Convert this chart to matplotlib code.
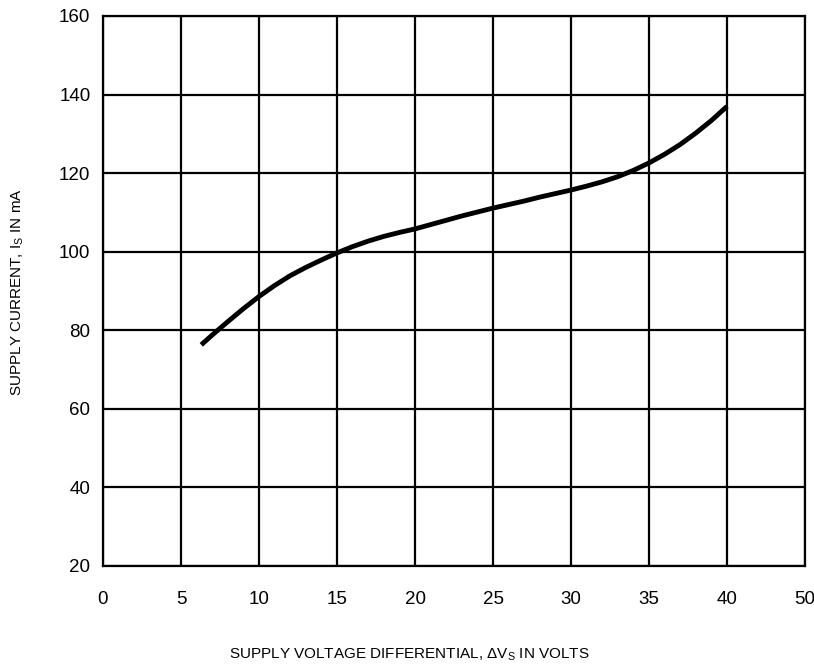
import numpy as np
import matplotlib.pyplot as plt

plt.rcParams['font.family'] = ['Liberation Sans', 'DejaVu Sans']
plt.rcParams['mathtext.fontset'] = 'custom'
plt.rcParams['mathtext.rm'] = 'Liberation Sans'
plt.rcParams['mathtext.it'] = 'Liberation Sans'

# ось x неравномерная: последний интервал 40..50
x_ticks = [0, 5, 10, 15, 20, 25, 30, 35, 40, 50]
y_ticks = [20, 40, 60, 80, 100, 120, 140, 160]

# кривая тока питания
volts = [6.3, 7, 8, 9, 10, 11, 12, 13, 14, 15, 16, 17, 18, 19, 20,
         21, 22, 23, 24, 25, 26, 27, 28, 29, 30,
         31, 32, 33, 34, 35, 36, 37, 38, 39, 40]
current = [76.3, 78.8, 82.2, 85.5, 88.6, 91.4, 93.9, 96.0, 97.9, 99.7, 101.3, 102.7, 103.9, 104.9, 105.8,
           106.9, 108.0, 109.1, 110.1, 111.1, 112.0, 112.9, 113.9, 114.8, 115.7,
           116.7, 117.8, 119.1, 120.7, 122.6, 124.8, 127.3, 130.2, 133.4, 137.0]

pos = np.arange(len(x_ticks))
xs = np.interp(volts, x_ticks, pos)

fig = plt.figure(figsize=(8.14, 6.72), dpi=100)
ax = fig.add_axes([103 / 814, 106 / 672, 702 / 814, 550 / 672])

for p in pos:
    ax.axvline(p, color='black', lw=1.6, zorder=1)
for y in y_ticks:
    ax.axhline(y, color='black', lw=1.6, zorder=1)

ax.plot(xs, current, color='black', lw=3.5, solid_capstyle='butt',
        solid_joinstyle='round', zorder=3)

ax.set_xlim(0, len(x_ticks) - 1)
ax.set_ylim(20, 160)
ax.set_xticks(pos)
ax.set_xticklabels([str(v) for v in x_ticks])
ax.set_yticks(y_ticks)
ax.tick_params(axis='both', length=0, labelsize=13.5, colors='black')
ax.tick_params(axis='x', pad=18)
ax.tick_params(axis='y', pad=9)
for s in ax.spines.values():
    s.set_linewidth(1.6)

ax.text(0.436, -0.162, r'SUPPLY VOLTAGE DIFFERENTIAL, ΔV$_\mathrm{S}$ IN VOLTS',
        transform=ax.transAxes, ha='center', va='center', fontsize=11)
ax.text(-0.121, 0.498, r'SUPPLY CURRENT, I$_\mathrm{S}$ IN mA',
        transform=ax.transAxes, ha='center', va='center', rotation=90, fontsize=11)

plt.savefig('out.png')
